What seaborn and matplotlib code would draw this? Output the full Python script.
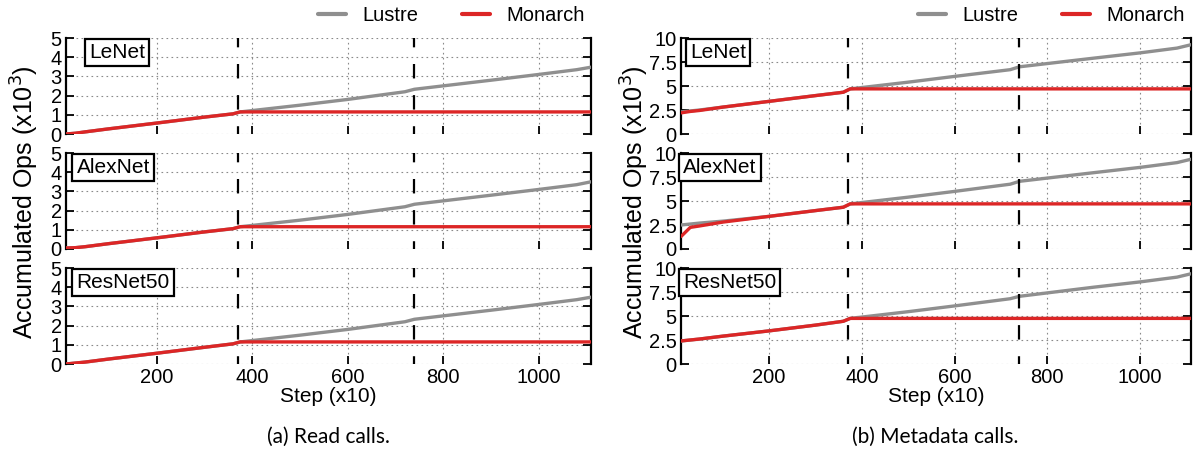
import numpy as np
import pandas as pd
import seaborn as sns
import matplotlib.pyplot as plt
from matplotlib.lines import Line2D

steps = [10, 30, 50, 100, 200, 300, 360, 375, 500, 600, 720, 740, 900, 1000, 1080, 1110]
models = ['LeNet', 'AlexNet', 'ResNet50']

# (a) read calls, x10^3
read_lustre = {
    'LeNet':    [0.0, 0.04, 0.11, 0.27, 0.57, 0.88, 1.05, 1.15, 1.50, 1.80, 2.20, 2.33, 2.80, 3.10, 3.35, 3.48],
    'AlexNet':  [0.05, 0.07, 0.12, 0.28, 0.58, 0.89, 1.06, 1.16, 1.50, 1.80, 2.20, 2.33, 2.80, 3.10, 3.35, 3.50],
    'ResNet50': [0.0, 0.05, 0.10, 0.26, 0.56, 0.87, 1.05, 1.15, 1.50, 1.80, 2.20, 2.33, 2.80, 3.10, 3.35, 3.48],
}
read_monarch = {
    'LeNet':    [0.0, 0.04, 0.11, 0.27, 0.57, 0.88, 1.05, 1.15, 1.15, 1.15, 1.15, 1.15, 1.15, 1.15, 1.15, 1.15],
    'AlexNet':  [0.05, 0.07, 0.12, 0.28, 0.58, 0.89, 1.06, 1.16, 1.16, 1.16, 1.16, 1.16, 1.16, 1.16, 1.16, 1.16],
    'ResNet50': [0.0, 0.05, 0.10, 0.26, 0.56, 0.87, 1.05, 1.15, 1.15, 1.15, 1.15, 1.15, 1.15, 1.15, 1.15, 1.15],
}

# (b) metadata calls, x10^3
meta_lustre = {
    'LeNet':    [2.30, 2.40, 2.50, 2.80, 3.40, 4.00, 4.35, 4.70, 5.40, 6.00, 6.70, 7.00, 7.90, 8.45, 8.95, 9.30],
    'AlexNet':  [2.50, 2.60, 2.70, 2.90, 3.40, 4.00, 4.35, 4.70, 5.40, 6.00, 6.75, 7.05, 7.95, 8.50, 9.00, 9.35],
    'ResNet50': [2.40, 2.50, 2.60, 2.90, 3.45, 4.05, 4.45, 4.75, 5.45, 6.05, 6.80, 7.05, 8.00, 8.55, 9.05, 9.40],
}
meta_monarch = {
    'LeNet':    [2.20, 2.35, 2.45, 2.80, 3.40, 4.00, 4.35, 4.70, 4.70, 4.70, 4.70, 4.70, 4.70, 4.70, 4.70, 4.70],
    'AlexNet':  [1.30, 2.25, 2.40, 2.80, 3.40, 4.00, 4.35, 4.70, 4.70, 4.70, 4.70, 4.70, 4.70, 4.70, 4.70, 4.70],
    'ResNet50': [2.40, 2.50, 2.60, 2.90, 3.45, 4.05, 4.45, 4.75, 4.75, 4.75, 4.75, 4.75, 4.75, 4.75, 4.75, 4.75],
}

phase_marks = [370, 740]
colors = {'Lustre': '#8f8f8f', 'Monarch': '#dc2626'}


def to_frame(lustre, monarch, model):
    rows = []
    for fs, vals in (('Lustre', lustre[model]), ('Monarch', monarch[model])):
        for s, v in zip(steps, vals):
            rows.append({'step': s, 'ops': v, 'fs': fs})
    return pd.DataFrame(rows)


sns.set_style('white')
plt.rcParams['font.family'] = ['Liberation Sans', 'DejaVu Sans']
plt.rcParams['text.color'] = 'black'
plt.rcParams['axes.labelcolor'] = 'black'
plt.rcParams['xtick.color'] = 'black'
plt.rcParams['ytick.color'] = 'black'

fig = plt.figure(figsize=(11.94, 4.54), dpi=100)

col_left = [66 / 1194, 681 / 1194]
col_width = [525 / 1194, 510 / 1194]
row_top = [38, 153, 268]
row_h = 96

panels = [
    (read_lustre, read_monarch, [0, 1, 2, 3, 4, 5], ['0', '1', '2', '3', '4', '5'], 5,
     [0.044, 0.02, 0.02]),
    (meta_lustre, meta_monarch, [0, 2.5, 5, 7.5, 10], ['0', '2.5', '5', '7.5', '10'], 10,
     [0.018, 0.004, 0.004]),
]

for c, (lus, mon, yt, ytl, ymax, box_x) in enumerate(panels):
    for r, model in enumerate(models):
        bottom = 1 - (row_top[r] + row_h) / 454
        ax = fig.add_axes([col_left[c], bottom, col_width[c], row_h / 454])
        df = to_frame(lus, mon, model)
        sns.lineplot(data=df, x='step', y='ops', hue='fs', palette=colors,
                     linewidth=2.4, ax=ax, legend=False, zorder=3)
        for xm in phase_marks:
            ax.axvline(xm, color='black', lw=1.6, ls=(3, (6.5, 7.5)), zorder=4)
        ax.set_xlim(10, 1110)
        ax.set_ylim(0, ymax)
        ax.set_xticks([200, 400, 600, 800, 1000])
        ax.set_yticks(yt)
        ax.set_yticklabels(ytl)
        ax.grid(True, ls=(0, (1.5, 3)), color='#8a8a8a', lw=0.8)
        for side in ('top', 'bottom'):
            ax.spines[side].set_visible(False)
        for side in ('left', 'right'):
            ax.spines[side].set_color('black')
            ax.spines[side].set_linewidth(1.6)
        ax.tick_params(direction='in', length=6, width=1.3, left=True, right=True,
                       bottom=True, top=False, labelsize=14.5, pad=3, colors='black')
        ax.set_xlabel('')
        ax.set_ylabel('')
        if r < 2:
            ax.tick_params(labelbottom=False)
        else:
            ax.set_xlabel('Step (x10)', fontsize=15, labelpad=0, color='black')
        ax.text(box_x[r], 0.95, model, transform=ax.transAxes, fontsize=15,
                va='top', ha='left', zorder=6, color='black',
                bbox=dict(boxstyle='square,pad=0.2', fc='white', ec='black', lw=1.6))

    mid_y = 1 - (40 + 364) / 2 / 454
    fig.text([0.021, 0.532][c], mid_y, 'Accumulated Ops (x10$^3$)', rotation=90,
             ha='center', va='center', fontsize=18, color='black')

    handles = [Line2D([], [], color=colors['Lustre'], lw=3),
               Line2D([], [], color=colors['Monarch'], lw=3)]
    fig.legend(handles, ['Lustre', 'Monarch'], loc='upper right',
               bbox_to_anchor=(col_left[c] + col_width[c], 1.0), ncol=2,
               frameon=False, fontsize=14.5, handlelength=1.4, handletextpad=0.8,
               columnspacing=2.2, borderaxespad=0.1, borderpad=0.2, labelcolor='black')

fig.text(328 / 1194, 1 - 437 / 454, '(a) Read calls.', ha='center', va='center',
         fontsize=15, color='black', family=['Lato', 'DejaVu Sans'])
fig.text(935 / 1194, 1 - 437 / 454, '(b) Metadata calls.', ha='center', va='center',
         fontsize=15, color='black', family=['Lato', 'DejaVu Sans'])

fig.savefig('out.png', dpi=100)
